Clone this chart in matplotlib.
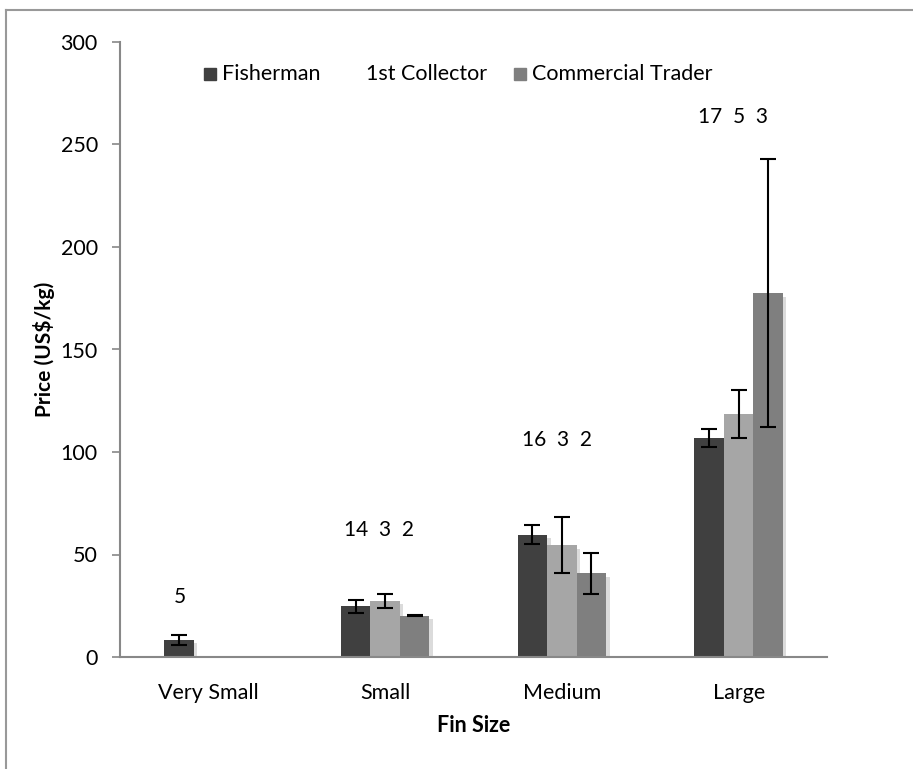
import numpy as np
import matplotlib
matplotlib.use("Agg")
import matplotlib.pyplot as plt
from matplotlib.patches import Rectangle
from matplotlib.lines import Line2D
import matplotlib.patheffects as pe

plt.rcParams['font.family'] = ['Lato', 'DejaVu Sans']

categories = ["Very Small", "Small", "Medium", "Large"]
series_names = ["Fisherman", "1st Collector", "Commercial Trader"]
fisherman = [8.3, 24.8, 59.7, 107.0]
fisherman_err = [2.4, 3.2, 4.7, 4.4]
collector = [np.nan, 27.5, 54.6, 118.3]
collector_err = [np.nan, 3.4, 13.8, 11.7]
trader = [np.nan, 20.1, 40.8, 177.5]
trader_err = [np.nan, 0.3, 10.1, 65.5]
counts = ["5", "14  3  2", "16  3  2", "17  5  3"]
count_x = [-0.164, 0.965, 1.972, 2.970]
count_y = [29.3, 62, 106, 263.5]
yticks = [0, 50, 100, 150, 200, 250, 300]

colors = ["#404040", "#a6a6a6", "#7f7f7f"]
FS = 15.5

fig = plt.figure(figsize=(9.13, 7.69), dpi=100)
ax = fig.add_axes([120/913, 1-657/769, 707/913, 615/769])

x = np.arange(len(categories))
w = 0.167
shadow = [pe.SimplePatchShadow(offset=(2.5, -2.5), shadow_rgbFace="#9a9a9a", alpha=0.35), pe.Normal()]
for i, (vals, errs) in enumerate([(fisherman, fisherman_err), (collector, collector_err), (trader, trader_err)]):
    pos = x + (i - 1) * w
    bars = ax.bar(pos, vals, width=w, color=colors[i], zorder=2)
    for b in bars:
        b.set_path_effects(shadow)
    ax.errorbar(pos, vals, yerr=errs, fmt="none", ecolor="black", elinewidth=1.5,
                capsize=5.5, capthick=1.5, zorder=3)

for cx, cy, t in zip(count_x, count_y, counts):
    ax.text(cx, cy, t, ha="center", va="center", fontsize=FS - 0.5)

ax.set_xlim(-0.5, 3.5)
ax.set_ylim(0, 300)
ax.set_yticks(yticks)
ax.set_xticks(x)
ax.set_xticklabels(categories, fontsize=FS)
ax.tick_params(axis="y", labelsize=FS, length=6, width=1.2, color="#888888", pad=10)
ax.tick_params(axis="x", length=0, pad=19)
for s in ["top", "right"]:
    ax.spines[s].set_visible(False)
for s in ["left", "bottom"]:
    ax.spines[s].set_color("#888888")
    ax.spines[s].set_linewidth(1.5)

ax.set_ylabel("Price (US$/kg)", fontsize=15, fontweight="bold", labelpad=4)
ax.set_xlabel("Fin Size", fontsize=FS, fontweight="bold", labelpad=8)

# legend (manual, matching the original layout)
ly = 0.948
ax.add_patch(Rectangle((0.1188, 0.939), 0.017, 0.0195, transform=ax.transAxes,
                       color=colors[0], clip_on=False))
ax.text(0.1443, ly, series_names[0], transform=ax.transAxes, va="center", fontsize=FS)
ax.text(0.348, ly, series_names[1], transform=ax.transAxes, va="center", fontsize=FS)
ax.add_patch(Rectangle((0.557, 0.939), 0.017, 0.0195, transform=ax.transAxes,
                       color=colors[2], clip_on=False))
ax.text(0.583, ly, series_names[2], transform=ax.transAxes, va="center", fontsize=FS)

# outer chart border (partially visible)
fig.add_artist(Line2D([6/913, 1], [1-10/769, 1-10/769], color="#999999", lw=1.5))
fig.add_artist(Line2D([6/913, 6/913], [0, 1-10/769], color="#999999", lw=1.5))

fig.savefig("out.png", dpi=100)
